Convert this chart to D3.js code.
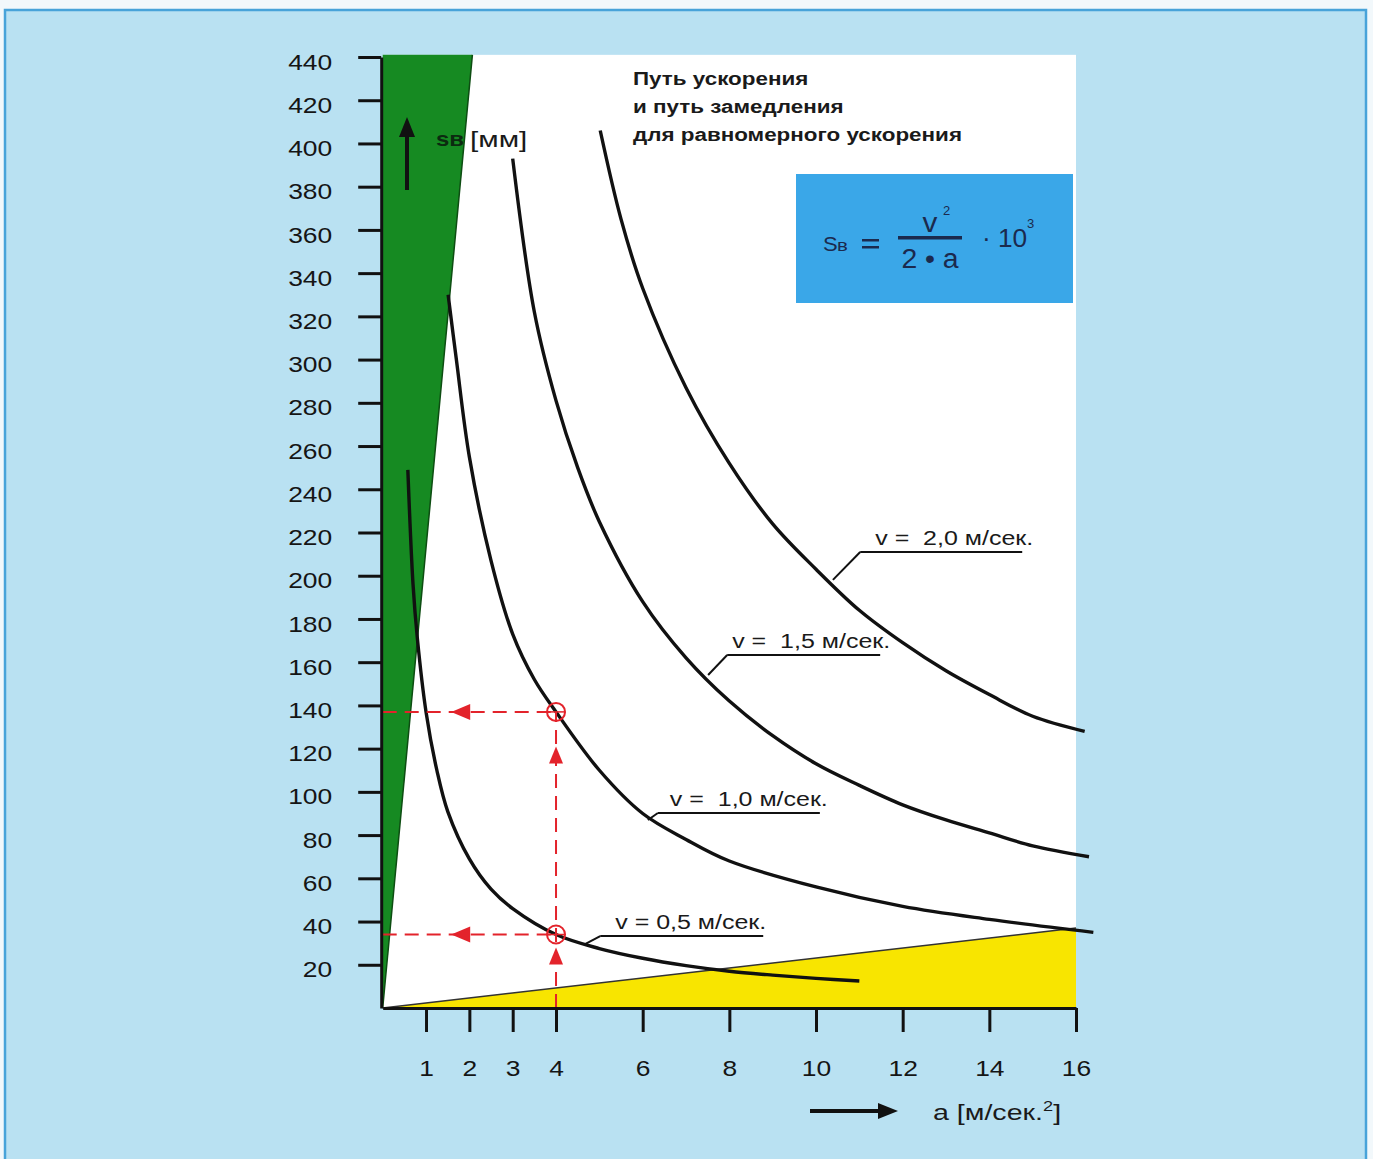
<!DOCTYPE html>
<html><head><meta charset="utf-8">
<script src="https://cdn.jsdelivr.net/npm/d3@7/dist/d3.min.js"></script>
<style>html,body{margin:0;padding:0;background:#f2f8fb;}svg{display:block;}</style>
</head><body>
<svg id="chart" width="1373" height="1159"></svg>
<script>
// ---------- data ----------
const yTicks = [20,40,60,80,100,120,140,160,180,200,220,240,260,280,300,320,340,360,380,400,420,440];
const xTicks = [1,2,3,4,6,8,10,12,14,16];

const curveNames = ["v = 0,5 м/сек.", "v =  1,0 м/сек.", "v =  1,5 м/сек.", "v =  2,0 м/сек."];
const a05 = [0.58,0.7,0.8,1.0,1.25,1.5,2,2.5,3,4,5,6,7,8,9,10,11];
const s05 = [249,196,171,137,110,91,69,55,46,34,27.5,23,19.6,17,15.2,13.7,12.5];
const a10 = [1.51,1.7,2,2.5,3,3.5,4,5,6,7,8,10,12,14,16.4];
const s10 = [330,300,255,207,173,152,137,110,90,78,68,56,47,41,35];
const a15 = [3,3.5,4,4.5,5,6,7,8,9,10,11,12,13,14,15,16.3];
const s15 = [393,322,281,250,225,188,162,142,126,113,103,94,87,81,75,70];
const a20 = [5.02,5.5,6,7,8,9,10,11,12,13,14,15,16.2];
const s20 = [406,365,333,287,252,224,203,184,169,156,145,135,128];

// label anchors (start of underline) and leader ends on the curves, in data units
const labelA = [5.02, 6.35, 7.95, 11.02];
const labelS = [33.3, 90.2, 163.3, 211.0];
const leaderA = [4.67, 6.12, 7.51, 10.39];
const leaderS = [29.6, 87.0, 154.1, 198.1];

// green (acceleration) and yellow regions
const greenA = [0, 0, 2.07];
const greenS = [0, 441, 441];
const yellowA = [0, 16, 16];
const yellowS = [0, 37, 0];

// red example markers
const markA = [4, 4];
const markS = [137, 34];

const titleLines = ["Путь ускорения", "и путь замедления", "для равномерного ускорения"];

// ---------- setup ----------
const FONT = "'Liberation Sans', Arial, Helvetica, sans-serif";
const svg = d3.select("#chart").attr("font-family", FONT);
const x = d3.scaleLinear().domain([0,16]).range([382.7,1076]);
const y = d3.scaleLinear().domain([0,440]).range([1008,57]);

function txt(sel, px, py, str, o={}) {
  const t = sel.append("text")
    .attr("transform", `translate(${px},${py}) scale(${o.sx||1},1)`)
    .attr("font-size", o.size||20)
    .attr("font-weight", o.weight||"normal")
    .attr("text-anchor", o.anchor||"start")
    .attr("fill", o.fill||"#1a1a1a")
    .style("white-space","pre")
    .text(str);
  return t;
}

// page background + frame
svg.append("rect").attr("x",0).attr("y",0).attr("width",1373).attr("height",1159).attr("fill","#f2f8fb");
svg.append("rect").attr("x",5).attr("y",10).attr("width",1361).attr("height",1170)
  .attr("fill","#b9e1f2").attr("stroke","#48a3d9").attr("stroke-width",2.5);

// white plot area
svg.append("rect").attr("x",x(0)).attr("y",y(441)).attr("width",x(16)-x(0)).attr("height",y(0)-y(441)).attr("fill","#ffffff");

// green & yellow regions
const poly = (A,S) => A.map((a,i)=>[x(a),y(S[i])].join(",")).join(" ");
svg.append("polygon").attr("points", poly(greenA,greenS)).attr("fill","#168a22");
svg.append("line").attr("x1",x(greenA[0])).attr("y1",y(greenS[0])).attr("x2",x(greenA[2])).attr("y2",y(greenS[2]))
  .attr("stroke","#0d4d12").attr("stroke-width",1.5);
svg.append("polygon").attr("points", poly(yellowA,yellowS)).attr("fill","#f8e500");
svg.append("line").attr("x1",x(yellowA[0])).attr("y1",y(yellowS[0])).attr("x2",x(yellowA[1])).attr("y2",y(yellowS[1]))
  .attr("stroke","#333").attr("stroke-width",1.5);

// curves
const line = d3.line().x(d=>x(d[0])).y(d=>y(d[1])).curve(d3.curveCatmullRom.alpha(0.5));
const series = [[a05,s05],[a10,s10],[a15,s15],[a20,s20]];
series.forEach(([A,S]) => {
  svg.append("path").datum(A.map((a,i)=>[a,S[i]])).attr("d", line)
    .attr("fill","none").attr("stroke","#111").attr("stroke-width",3.4);
});

// curve labels with underline + leader
const ulen = [163, 162, 153, 162];
const tOff = [15, 12, 5, 15];
curveNames.forEach((name,i) => {
  const ux = x(labelA[i]), uy = y(labelS[i]);
  svg.append("line").attr("x1",x(leaderA[i])).attr("y1",y(leaderS[i])).attr("x2",ux).attr("y2",uy)
    .attr("stroke","#111").attr("stroke-width",2);
  svg.append("line").attr("x1",ux).attr("y1",uy).attr("x2",ux+ulen[i]).attr("y2",uy)
    .attr("stroke","#111").attr("stroke-width",2);
  txt(svg, ux+tOff[i], uy-7, name, {size:20, sx:1.25});
});

// red dashed guide lines, markers and arrows
const red = "#e3232b";
markS.forEach((s,i) => {
  svg.append("line").attr("x1",x(0)).attr("y1",y(s)).attr("x2",x(markA[i])).attr("y2",y(s))
    .attr("stroke",red).attr("stroke-width",2).attr("stroke-dasharray","14,8");
  svg.append("circle").attr("cx",x(markA[i])).attr("cy",y(s)).attr("r",9)
    .attr("fill","none").attr("stroke",red).attr("stroke-width",2);
  svg.append("line").attr("x1",x(markA[i])-9).attr("y1",y(s)).attr("x2",x(markA[i])+9).attr("y2",y(s))
    .attr("stroke",red).attr("stroke-width",1.5);
  const ax = x(1.58);
  svg.append("path").attr("d",`M${ax},${y(s)} L${ax+19},${y(s)-8} L${ax+19},${y(s)+8} Z`).attr("fill",red);
});
svg.append("line").attr("x1",x(4)).attr("y1",y(0)).attr("x2",x(4)).attr("y2",y(markS[0]))
  .attr("stroke",red).attr("stroke-width",2).attr("stroke-dasharray","14,8");
[markS[0]-16, markS[1]-6].forEach(s => {
  const ty = y(s);
  svg.append("path").attr("d",`M${x(4)},${ty} L${x(4)-7},${ty+17} L${x(4)+7},${ty+17} Z`).attr("fill",red);
});

// axes
const yAxis = svg.append("g").attr("transform",`translate(${x(0)-1.5},0)`)
  .call(d3.axisLeft(y).tickValues(yTicks).tickSize(23).tickSizeOuter(0));
yAxis.select(".domain").attr("stroke","#111").attr("stroke-width",3);
yAxis.selectAll(".tick line").attr("stroke","#111").attr("stroke-width",3);
yAxis.selectAll(".tick text").attr("font-family",FONT).attr("font-size",22).attr("fill","#151515")
  .attr("x", -49/1.2).attr("dy","0.55em").attr("transform","scale(1.2,1)");

const xAxis = svg.append("g").attr("transform",`translate(0,${y(0)})`)
  .call(d3.axisBottom(x).tickValues(xTicks).tickSize(24).tickSizeOuter(0));
xAxis.select(".domain").attr("stroke","#111").attr("stroke-width",3);
xAxis.selectAll(".tick line").attr("stroke","#111").attr("stroke-width",3);
xAxis.selectAll(".tick text").attr("font-family",FONT).attr("font-size",22).attr("fill","#151515")
  .attr("y",68).attr("dy",0).attr("transform","scale(1.2,1)");

// y label with arrow
svg.append("line").attr("x1",407).attr("y1",190).attr("x2",407).attr("y2",132).attr("stroke","#111").attr("stroke-width",4);
svg.append("path").attr("d","M407,117 L399,137 L415,137 Z").attr("fill","#111");
txt(svg, 436, 146, "sв", {size:20, weight:"bold", fill:"#0c2a10", sx:1.2});
txt(svg, 470, 147, "[мм]", {size:22, sx:1.35});

// x label with arrow
svg.append("line").attr("x1",810).attr("y1",1111).attr("x2",880).attr("y2",1111).attr("stroke","#111").attr("stroke-width",4);
svg.append("path").attr("d","M898,1111 L878,1103 L878,1119 Z").attr("fill","#111");
const xl = txt(svg, 933, 1120, "a [м/сек.", {size:22, sx:1.3});
xl.append("tspan").attr("font-size",14).attr("dy",-9).text("2");
xl.append("tspan").attr("dy",9).text("]");

// title
titleLines.forEach((l,i) => txt(svg, 633, 85 + i*28, l, {size:19, weight:"bold", sx:1.18}));

// formula box
const fb = svg.append("g");
fb.append("rect").attr("x",796).attr("y",174).attr("width",277).attr("height",129).attr("fill","#3aa7e8");
const navy = "#1b2a4e";
txt(fb, 823, 251, "S", {size:20, fill:navy, sx:1.1});
txt(fb, 837, 251, "в", {size:17, fill:navy, sx:1.2});
fb.append("rect").attr("x",862).attr("y",239).attr("width",17).attr("height",2.5).attr("fill",navy);
fb.append("rect").attr("x",862).attr("y",246).attr("width",17).attr("height",2.5).attr("fill",navy);
txt(fb, 930, 232, "v", {size:27, fill:navy, anchor:"middle", sx:1.1});
txt(fb, 943, 215, "2", {size:13, fill:navy});
fb.append("rect").attr("x",898).attr("y",236).attr("width",64).attr("height",3.5).attr("fill",navy);
txt(fb, 930, 268, "2 • a", {size:27, fill:navy, anchor:"middle", sx:1.05});
txt(fb, 982, 247, "· 10", {size:25, fill:navy, sx:1.05});
txt(fb, 1027, 228, "3", {size:13, fill:navy});
</script>
</body></html>
